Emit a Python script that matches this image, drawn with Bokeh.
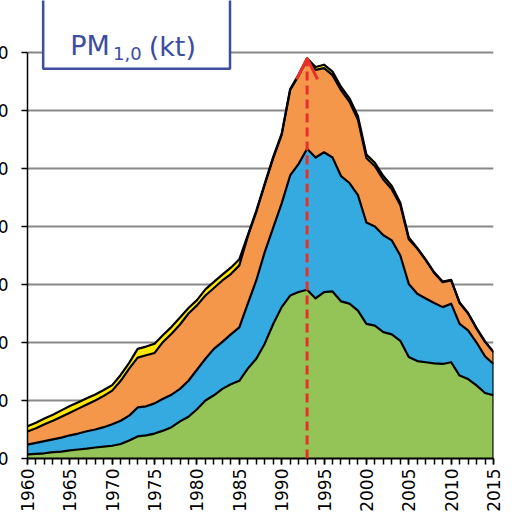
import numpy as np
from bokeh.plotting import figure
from bokeh.models import (FixedTicker, Arrow, OpenHead, BoxAnnotation, Label,
                          ColumnDataSource, Range1d)
from bokeh.embed import file_html
from bokeh.resources import INLINE

# ---------------- data (kt) ----------------
years = list(range(1960, 2016))
green = [0.7, 0.8, 0.9, 1.1, 1.2, 1.4, 1.55, 1.7, 1.9, 2.05,
         2.2, 2.5, 3.1, 3.8, 4.0, 4.3, 4.8, 5.4, 6.4, 7.2,
         8.5, 10.0, 10.9, 12.0, 12.8, 13.4, 15.5, 17.2, 19.8, 23.2,
         26.1, 28.1, 28.7, 29.1, 27.6, 28.7, 28.8, 27.1, 26.7, 25.5,
         23.2, 22.9, 21.8, 21.4, 20.3, 17.5, 16.8, 16.6, 16.4, 16.3,
         16.6, 14.3, 13.7, 12.6, 11.3, 10.9]
blue = [1.7, 1.9, 2.1, 2.2, 2.4, 2.6, 2.75, 3.0, 3.1, 3.35,
        3.7, 4.0, 4.3, 5.0, 5.0, 5.2, 5.5, 5.6, 5.6, 6.2,
        6.8, 7.2, 8.0, 8.1, 8.6, 9.2, 11.2, 13.5, 15.8, 16.6,
        17.9, 20.7, 22.1, 24.3, 24.3, 24.1, 23.1, 21.6, 20.8, 19.9,
        17.5, 17.1, 16.7, 16.2, 14.7, 12.6, 11.6, 11.0, 10.4, 9.8,
        10.1, 8.9, 8.4, 7.4, 6.3, 5.4]
orange = [2.25, 2.5, 2.9, 3.2, 3.6, 3.9, 4.3, 4.6, 5.0, 5.4,
          5.8, 6.9, 8.1, 8.6, 8.8, 8.7, 9.8, 10.5, 11.1, 11.6,
          11.1, 10.9, 10.5, 10.6, 10.4, 10.7, 11.6, 11.8, 11.6, 12.0,
          11.8, 14.7, 15.2, 15.4, 15.1, 14.5, 14.2, 14.8, 14.0, 13.0,
          11.1, 10.4, 9.6, 8.8, 8.7, 7.7, 7.8, 6.6, 5.2, 4.3,
          4.0, 3.6, 2.9, 2.4, 2.5, 2.0]
yellow = [0.9, 0.95, 1.0, 1.05, 1.1, 1.15, 1.1, 1.1, 1.05, 1.0,
          0.95, 1.0, 1.0, 1.5, 1.5, 1.6, 1.2, 1.2, 1.2, 0.95,
          0.9, 1.05, 1.05, 1.0, 1.1, 1.05, 0.2, 0.2, 0.2, 0.2,
          0.2, 0.2, 0.2, 0.2, 0.5, 0.6, 0.6, 0.6, 0.6, 0.6,
          0.6, 0.6, 0.6, 0.6, 0.4, 0.3, 0.1, 0.1, 0.1, 0.1,
          0.1, 0.1, 0.1, 0.1, 0.1, 0.1]
y_ticks = [0, 10, 20, 30, 40, 50, 60, 70]
x_label_years = list(range(1960, 2016, 5))
title_main, title_sub, title_unit = "PM", "1,0", "(kt)"

# ---------------- styles ----------------
C_GREEN, C_BLUE, C_ORANGE, C_YELLOW = "#94C458", "#35AAE1", "#F4974A", "#FFE800"
C_RED, C_TITLE, C_GRID = "#E8302A", "#3D4DA0", "#888888"
FONT = "DejaVu Sans"

layers = ["green", "blue", "orange", "yellow"]
src = ColumnDataSource(dict(year=years, green=green, blue=blue,
                            orange=orange, yellow=yellow))

p = figure(width=544, height=517, title=None,
           x_range=Range1d(1960, 2015), y_range=Range1d(0, 78.97),
           output_backend="svg", toolbar_location=None,
           min_border_left=60, min_border_right=18,
           min_border_top=0, min_border_bottom=59)
p.styles = {"margin-left": "-33px"}
p.outline_line_color = None
p.background_fill_color = "white"
p.border_fill_color = "white"

p.varea_stack(stackers=layers, x="year",
              color=[C_GREEN, C_BLUE, C_ORANGE, C_YELLOW], source=src)

cum = np.cumsum(np.array([green, blue, orange, yellow]), axis=0)
for row in cum:
    p.line(years, row, line_color="black", line_width=2.2, line_join="round")
p.segment(x0=[years[-1]], y0=[0], x1=[years[-1]], y1=[cum[-1][-1]],
          line_color="black", line_width=2.2)

# title box
p.add_layout(BoxAnnotation(left=1961.85, right=1983.9, bottom=67.2, top=95,
                           fill_color="white", fill_alpha=1.0,
                           line_color=C_TITLE, line_alpha=1.0, line_width=2.5))
p.add_layout(Label(x=1965.05, y=71.2, text=title_main, text_font=FONT,
                   text_font_size="27px", text_color=C_TITLE,
                   text_baseline="alphabetic"))
p.add_layout(Label(x=1970.1, y=69.8, text=title_sub, text_font=FONT,
                   text_font_size="18px", text_color=C_TITLE,
                   text_baseline="alphabetic"))
p.add_layout(Label(x=1974.3, y=71.0, text=title_unit, text_font=FONT,
                   text_font_size="27px", text_color=C_TITLE,
                   text_baseline="alphabetic"))

# peak arrow
total = cum[-1]
i_peak = int(np.argmax(total))
p.add_layout(Arrow(end=OpenHead(size=21, line_color=C_RED, line_width=3),
                   x_start=years[i_peak], y_start=0,
                   x_end=years[i_peak], y_end=float(total[i_peak]),
                   line_color=C_RED, line_width=3, line_dash="9 5"))

# axes
p.xgrid.visible = False
p.ygrid.ticker = FixedTicker(ticks=y_ticks)
p.ygrid.grid_line_color = C_GRID
p.ygrid.grid_line_width = 2

xa = p.xaxis[0]
xa.ticker = FixedTicker(ticks=x_label_years, minor_ticks=years)
xa.major_label_orientation = np.pi / 2
xa.major_label_text_font = FONT
xa.major_label_text_font_size = "17px"
xa.major_label_text_color = "black"
xa.major_label_standoff = 4
xa.major_tick_out = 6
xa.major_tick_in = 0
xa.minor_tick_out = 6
xa.minor_tick_in = 0
xa.axis_line_color = "black"
xa.axis_line_width = 2
xa.major_tick_line_width = 1.5
xa.minor_tick_line_width = 1.5
xa.major_tick_line_color = "black"
xa.minor_tick_line_color = "black"

ya = p.yaxis[0]
ya.ticker = FixedTicker(ticks=y_ticks)
ya.bounds = (0, 70)
ya.major_label_text_font = FONT
ya.major_label_text_font_size = "17px"
ya.major_label_text_color = "black"
ya.major_label_standoff = 13
ya.major_tick_out = 6
ya.major_tick_in = 0
ya.minor_tick_line_color = None
ya.axis_line_color = "black"
ya.axis_line_width = 1.5
ya.major_tick_line_width = 1.5
ya.major_tick_line_color = "black"

open("out.html", "w").write(file_html(p, INLINE))
